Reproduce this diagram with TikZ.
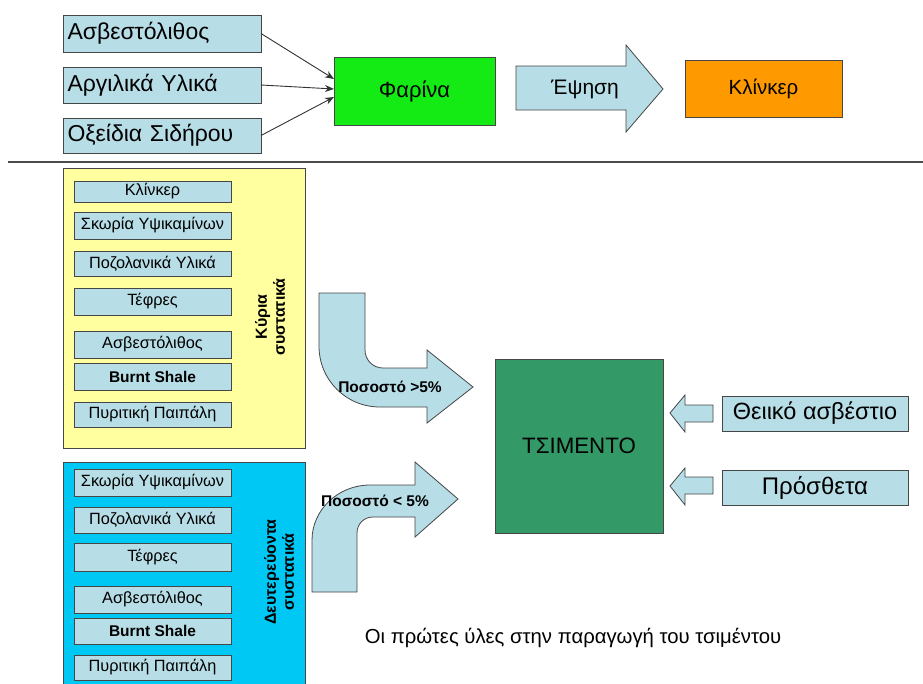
\documentclass[tikz,border=0pt]{standalone}
\usepackage{fontspec}
\setmainfont{Liberation Sans}
\usetikzlibrary{calc,arrows.meta}
\definecolor{lblue}{RGB}{183,221,230}
\definecolor{pyellow}{RGB}{255,255,160}
\definecolor{pcyan}{RGB}{0,200,245}
\definecolor{fgreen}{RGB}{20,235,20}
\definecolor{korange}{RGB}{255,153,0}
\definecolor{cgreen}{RGB}{51,153,102}
\definecolor{edge}{RGB}{70,70,70}
\tikzset{
  bx/.style={draw=edge,line width=0.8pt,anchor=north west,inner sep=0pt,outer sep=0pt},
  topbox/.style={bx,fill=lblue,minimum width=198pt,font=\fontsize{23}{25}\selectfont,
     text width=189pt,align=left},
  item/.style={bx,fill=lblue,minimum width=157pt,font=\fontsize{16.3}{18}\selectfont,align=center},
  itembold/.style={item,font=\bfseries\fontsize{15.5}{17}\selectfont},
  panel/.style={draw=edge,line width=0.8pt},
  blockarrow/.style={draw=edge,line width=0.8pt,fill=lblue,line join=miter},
  conn/.style={line width=0.9pt,draw=black!80,-{Stealth[length=9pt,width=7pt]}},
  sidelbl/.style={font=\bfseries\fontsize{16}{18}\selectfont,align=center,rotate=90},
  pct/.style={font=\bfseries\fontsize{15.5}{17}\selectfont}
}
\begin{document}
\begin{tikzpicture}[x=1pt,y=-1pt]
\useasboundingbox (0,0) rectangle (923,683);
\fill[white] (0,0) rectangle (923,683);

% top row
\node[topbox,minimum height=37pt] (t1) at (63,15) {Ασβεστόλιθος};
\node[topbox,minimum height=36pt] (t2) at (63,67) {Αργιλικά Υλικά};
\node[topbox,minimum height=35pt] (t3) at (63,118) {Οξείδια Σιδήρου};
\node[bx,fill=fgreen,minimum width=161pt,minimum height=68pt,font=\fontsize{22}{24}\selectfont] (far) at (334,57) {Φαρίνα};
\coordinate (fa) at ($(far.west)+(0,-12)$);
\coordinate (fb) at ($(far.west)+(0,-2)$);
\coordinate (fc) at ($(far.west)+(0,6)$);
\draw[conn] (t1.east) -- (fa);
\draw[conn] (t2.east) -- (fb);
\draw[conn] (t3.east) -- (fc);

\draw[blockarrow] (516,66) -- (626,66) -- (626,45) -- (663,89) -- (626,132) -- (626,110) -- (516,110) -- cycle;
\node[font=\fontsize{21}{23}\selectfont] (eps) at (585,89) {Έψηση};
\node[bx,fill=korange,minimum width=157pt,minimum height=57pt,font=\fontsize{20.5}{22}\selectfont] (kl) at (685,60) {Κλίνκερ};

% separator
\coordinate (hl) at (8,162);
\coordinate (hr) at (923,162);
\draw[line width=1.3pt,draw=black!70] (hl) -- (hr);

% main constituents
\draw[panel,fill=pyellow] (63,168) rectangle (305,448);
\node[item,minimum height=21pt] (m1) at (74,181) {Κλίνκερ};
\node[item,minimum height=27pt] (m2) at (74,212) {Σκωρία Υψικαμίνων};
\node[item,minimum height=25pt] (m3) at (74,251) {Ποζολανικά Υλικά};
\node[item,minimum height=27pt] (m4) at (74,288) {Τέφρες};
\node[item,minimum height=27pt] (m5) at (74,331) {Ασβεστόλιθος};
\node[itembold,minimum height=27pt] (m6) at (74,363) {Burnt Shale};
\node[item,minimum height=25pt] (m7) at (74,402) {Πυριτική Παιπάλη};
\node[sidelbl] (ml) at (270,317) {Κύρια\\συστατικά};

% secondary constituents
\draw[panel,fill=pcyan] (63,462) rectangle (305,695);
\node[item,minimum height=27pt] (s1) at (74,469) {Σκωρία Υψικαμίνων};
\node[item,minimum height=26pt] (s2) at (74,507) {Ποζολανικά Υλικά};
\node[item,minimum height=28pt] (s3) at (74,543) {Τέφρες};
\node[item,minimum height=27pt] (s4) at (74,586) {Ασβεστόλιθος};
\node[itembold,minimum height=26pt] (s5) at (74,618) {Burnt Shale};
\node[item,minimum height=25pt] (s6) at (74,655) {Πυριτική Παιπάλη};
\node[sidelbl] (sl) at (279,572) {Δευτερεύοντα\\συστατικά};

% curved arrow 1
\draw[blockarrow] (319,293) -- (365,293) -- (365,350)
  .. controls (365,360) and (373,368) .. (383,368)
  -- (427,368) -- (427,350) -- (473,387) -- (427,423) -- (427,407) -- (380,407)
  .. controls (346,407) and (319,380) .. (319,346) -- cycle;
\node[pct] (p1) at (390,387) {Ποσοστό >5\%};

% curved arrow 2
\draw[blockarrow] (312,592) -- (312,540)
  .. controls (312,510) and (338,485) .. (370,485)
  -- (415,485) -- (415,462) -- (458,499) -- (415,537) -- (415,517) -- (373,517)
  .. controls (364,517) and (357,524) .. (357,533) -- (357,592) -- cycle;
\node[pct] (p2) at (375,501) {Ποσοστό < 5\%};

% cement
\node[bx,fill=cgreen,minimum width=168pt,minimum height=174pt,font=\fontsize{22.3}{24}\selectfont] (cem) at (495,359) {ΤΣΙΜΕΝΤΟ};

\draw[blockarrow] (670,413) -- (685,395) -- (685,405) -- (713,405) -- (713,422) -- (685,422) -- (685,432) -- cycle;
\draw[blockarrow] (670,486) -- (685,468) -- (685,477) -- (713,477) -- (713,494) -- (685,494) -- (685,505) -- cycle;

\node[bx,fill=lblue,minimum width=186pt,minimum height=35pt,font=\fontsize{23.5}{25}\selectfont] (th) at (722,396) {Θειικό ασβέστιο};
\node[bx,fill=lblue,minimum width=186pt,minimum height=35pt,font=\fontsize{24}{26}\selectfont] (pr) at (722,470) {Πρόσθετα};

\node[font=\fontsize{20.3}{22}\selectfont] (cap) at (573,638) {Οι πρώτες ύλες στην παραγωγή του τσιμέντου};
\end{tikzpicture}
\end{document}
